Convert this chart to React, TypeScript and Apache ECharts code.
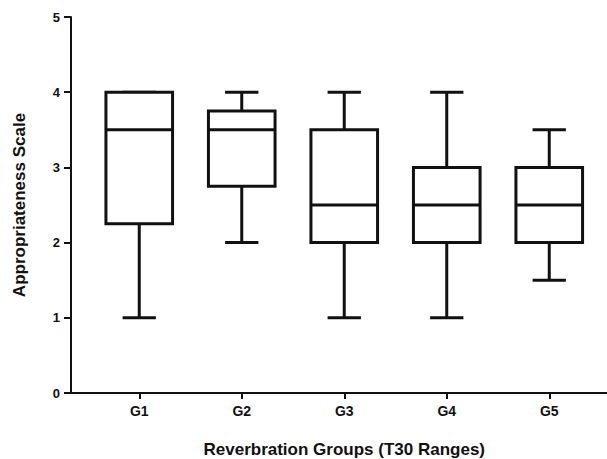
import React, { useEffect, useRef } from "react";
import * as echarts from "echarts";

const categories = ["G1", "G2", "G3", "G4", "G5"];
const mins = [1, 2, 1, 1, 1.5];
const q1s = [2.25, 2.75, 2, 2, 2];
const medians = [3.5, 3.5, 2.5, 2.5, 2.5];
const q3s = [4, 3.75, 3.5, 3, 3];
const maxs = [4, 4, 4, 4, 3.5];

const yAxisTitle = "Appropriateness Scale";
const xAxisTitle = "Reverbration Groups (T30 Ranges)";

const FONT = "'Liberation Sans', Arial, Helvetica, sans-serif";
const INK = "#111";

export default function App() {
  const ref = useRef<HTMLDivElement>(null);

  useEffect(() => {
    if (!ref.current) return;
    const chart = echarts.init(ref.current, undefined, { renderer: "svg" });

    const data = categories.map((c, i) => [i, mins[i], q1s[i], medians[i], q3s[i], maxs[i]]);

    const renderItem = (params: any, api: any) => {
      const x = api.value(0);
      const pMin = api.coord([x, api.value(1)]);
      const pQ1 = api.coord([x, api.value(2)]);
      const pMed = api.coord([x, api.value(3)]);
      const pQ3 = api.coord([x, api.value(4)]);
      const pMax = api.coord([x, api.value(5)]);
      const band = api.size([1, 0])[0];
      const bw = band * 0.65;
      const half = bw / 2;
      const cap = bw / 4;
      const cx = pMed[0];
      const lineStyle = { stroke: INK, lineWidth: 3, fill: "none" };
      return {
        type: "group",
        children: [
          {
            type: "line",
            shape: { x1: cx, y1: pQ3[1], x2: cx, y2: pMax[1] },
            style: lineStyle,
          },
          {
            type: "line",
            shape: { x1: cx, y1: pQ1[1], x2: cx, y2: pMin[1] },
            style: lineStyle,
          },
          {
            type: "line",
            shape: { x1: cx - cap, y1: pMax[1], x2: cx + cap, y2: pMax[1] },
            style: lineStyle,
          },
          {
            type: "line",
            shape: { x1: cx - cap, y1: pMin[1], x2: cx + cap, y2: pMin[1] },
            style: lineStyle,
          },
          {
            type: "rect",
            shape: { x: cx - half, y: pQ3[1], width: bw, height: pQ1[1] - pQ3[1] },
            style: { stroke: INK, lineWidth: 3, fill: "#fff" },
          },
          {
            type: "line",
            shape: { x1: cx - half, y1: pMed[1], x2: cx + half, y2: pMed[1] },
            style: lineStyle,
          },
        ],
      };
    };

    chart.setOption({
      animation: false,
      backgroundColor: "#fff",
      textStyle: { fontFamily: FONT },
      grid: [
        { left: 88, right: 6.5, top: 17, bottom: 66, outerBoundsMode: "none", containLabel: false },
        { left: 71, right: -2, top: 17, bottom: 66, outerBoundsMode: "none", containLabel: false },
      ],
      xAxis: [
        {
          type: "category",
          gridIndex: 0,
          data: categories,
          boundaryGap: true,
          name: xAxisTitle,
          nameLocation: "middle",
          nameGap: 48,
          nameTextStyle: { color: INK, fontSize: 17, fontWeight: "bold", fontFamily: FONT },
          axisLine: { show: false },
          axisTick: {
            show: true,
            alignWithLabel: true,
            length: 6,
            lineStyle: { color: INK, width: 2 },
          },
          axisLabel: {
            color: INK,
            fontSize: 14,
            fontWeight: "bold",
            fontFamily: FONT,
            margin: 11,
          },
          splitLine: { show: false },
        },
        {
          type: "value",
          gridIndex: 1,
          min: 0,
          max: 1,
          axisLine: { show: true, lineStyle: { color: INK, width: 2 } },
          axisTick: { show: false },
          axisLabel: { show: false },
          splitLine: { show: false },
        },
      ],
      yAxis: [
        {
          type: "value",
          gridIndex: 0,
          min: 0,
          max: 5,
          interval: 1,
          offset: 17,
          name: yAxisTitle,
          nameLocation: "middle",
          nameGap: 43,
          nameTextStyle: { color: INK, fontSize: 17, fontWeight: "bold", fontFamily: FONT },
          axisLine: { show: true, lineStyle: { color: INK, width: 2 } },
          axisTick: { show: true, length: 7, lineStyle: { color: INK, width: 2 } },
          axisLabel: {
            color: INK,
            fontSize: 13,
            fontWeight: "bold",
            fontFamily: FONT,
            margin: 11,
          },
          splitLine: { show: false },
        },
        {
          type: "value",
          gridIndex: 1,
          min: 0,
          max: 1,
          show: false,
        },
      ],
      series: [
        {
          type: "custom",
          xAxisIndex: 0,
          yAxisIndex: 0,
          data,
          encode: { x: 0, y: [1, 2, 3, 4, 5] },
          renderItem,
          z: 10,
        },
      ],
    });

    return () => chart.dispose();
  }, []);

  return (
    <div
      ref={ref}
      style={{ position: "fixed", left: 0, top: 0, width: 607, height: 459, background: "#fff" }}
    />
  );
}
